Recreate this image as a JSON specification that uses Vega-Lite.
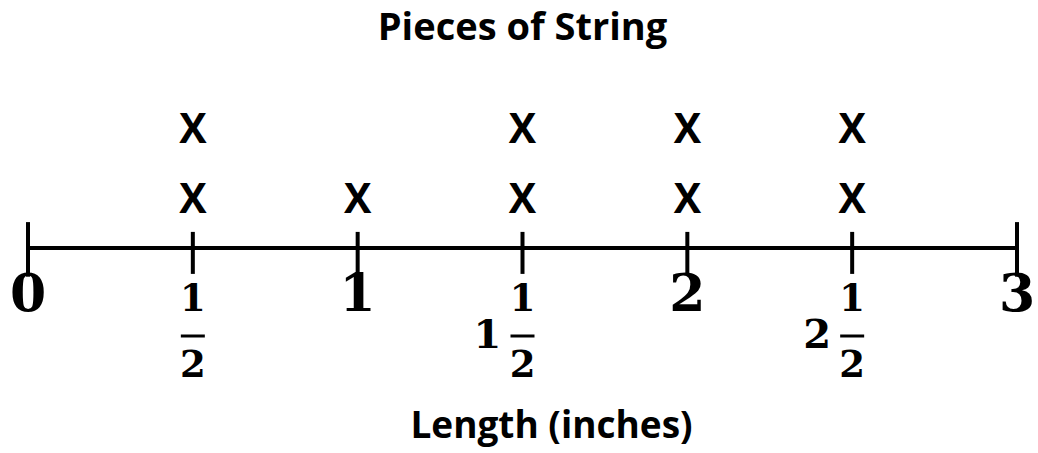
{
  "$schema": "https://vega.github.io/schema/vega-lite/v6.json",
  "width": 989,
  "height": 350,
  "autosize": {"type": "none"},
  "padding": {"left": 28, "top": 73, "right": 21, "bottom": 30},
  "background": "white",
  "title": {
    "text": "Pieces of String",
    "font": "Open Sans",
    "fontSize": 38,
    "fontWeight": "bold",
    "color": "black",
    "anchor": "middle",
    "offset": 25
  },
  "config": {
    "view": {"stroke": null},
    "axisX": {
      "labels": false,
      "ticks": false,
      "domain": false,
      "grid": false,
      "titleFont": "Open Sans",
      "titleFontSize": 37,
      "titleFontWeight": "bold",
      "titleColor": "black",
      "titleBaseline": "alphabetic",
      "titleAlign": "center",
      "titleX": 523,
      "titleY": 14
    }
  },
  "datasets": {
    "marks": [
      {"length": 0.5, "stack": 1},
      {"length": 0.5, "stack": 2},
      {"length": 1, "stack": 1},
      {"length": 1.5, "stack": 1},
      {"length": 1.5, "stack": 2},
      {"length": 2, "stack": 1},
      {"length": 2, "stack": 2},
      {"length": 2.5, "stack": 1},
      {"length": 2.5, "stack": 2}
    ],
    "ticks": [
      {"value": 0, "whole": "0"},
      {"value": 0.5, "whole": "", "num": "1", "den": "2"},
      {"value": 1, "whole": "1"},
      {"value": 1.5, "whole": "1", "num": "1", "den": "2"},
      {"value": 2, "whole": "2"},
      {"value": 2.5, "whole": "2", "num": "1", "den": "2"},
      {"value": 3, "whole": "3"}
    ],
    "line": [{"from": 0, "to": 3}]
  },
  "layer": [
    {
      "data": {"name": "line"},
      "mark": {"type": "rule", "color": "black", "strokeWidth": 4},
      "encoding": {
        "x": {
          "field": "from",
          "type": "quantitative",
          "scale": {"domain": [0, 3], "nice": false, "zero": false},
          "axis": {"title": "Length (inches)"}
        },
        "x2": {"field": "to"},
        "y": {"datum": 0, "type": "quantitative", "scale": {"domain": [-2.5, 2.5], "nice": false, "zero": false}, "axis": null}
      }
    },
    {
      "data": {"name": "ticks"},
      "transform": [{"filter": "datum.value > 0 && datum.value < 3"}],
      "mark": {"type": "rule", "color": "black", "strokeWidth": 4},
      "encoding": {
        "x": {"field": "value", "type": "quantitative", "title": "Length (inches)"},
        "y": {"datum": 0.23, "type": "quantitative", "axis": null},
        "y2": {"datum": -0.37}
      }
    },
    {
      "data": {"name": "ticks"},
      "transform": [{"filter": "datum.value == 0 || datum.value == 3"}],
      "mark": {"type": "rule", "color": "black", "strokeWidth": 4},
      "encoding": {
        "x": {"field": "value", "type": "quantitative", "title": "Length (inches)"},
        "y": {"datum": 0.37, "type": "quantitative", "axis": null},
        "y2": {"datum": -0.41}
      }
    },
    {
      "data": {"name": "marks"},
      "mark": {"type": "text", "text": "X", "font": "Open Sans", "fontSize": 41, "fontWeight": "bold", "color": "black", "baseline": "middle", "align": "center", "dy": 23},
      "encoding": {
        "x": {"field": "length", "type": "quantitative", "title": "Length (inches)"},
        "y": {"field": "stack", "type": "quantitative", "axis": null}
      }
    },
    {
      "data": {"name": "ticks"},
      "transform": [{"filter": "datum.num == null"}],
      "mark": {"type": "text", "font": "DejaVu Serif", "fontSize": 52, "fontWeight": "bold", "color": "black", "baseline": "middle", "align": "center", "dy": 47},
      "encoding": {
        "x": {"field": "value", "type": "quantitative", "title": "Length (inches)"},
        "y": {"datum": 0, "type": "quantitative", "axis": null},
        "text": {"field": "whole"}
      }
    },
    {
      "data": {"name": "ticks"},
      "transform": [{"filter": "datum.num != null"}],
      "mark": {"type": "text", "font": "DejaVu Serif", "fontSize": 37, "fontWeight": "bold", "color": "black", "baseline": "middle", "align": "center", "dy": 52},
      "encoding": {
        "x": {"field": "value", "type": "quantitative", "title": "Length (inches)"},
        "y": {"datum": 0, "type": "quantitative", "axis": null},
        "text": {"field": "num"}
      }
    },
    {
      "data": {"name": "ticks"},
      "transform": [{"filter": "datum.num != null"}],
      "mark": {"type": "tick", "orient": "horizontal", "size": 24, "thickness": 3, "color": "black", "opacity": 1, "yOffset": 88},
      "encoding": {
        "x": {"field": "value", "type": "quantitative", "title": "Length (inches)"},
        "y": {"datum": 0, "type": "quantitative", "axis": null}
      }
    },
    {
      "data": {"name": "ticks"},
      "transform": [{"filter": "datum.num != null"}],
      "mark": {"type": "text", "font": "DejaVu Serif", "fontSize": 37, "fontWeight": "bold", "color": "black", "baseline": "middle", "align": "center", "dy": 118},
      "encoding": {
        "x": {"field": "value", "type": "quantitative", "title": "Length (inches)"},
        "y": {"datum": 0, "type": "quantitative", "axis": null},
        "text": {"field": "den"}
      }
    },
    {
      "data": {"name": "ticks"},
      "transform": [{"filter": "datum.num != null && datum.whole != ''"}],
      "mark": {"type": "text", "font": "DejaVu Serif", "fontSize": 40, "fontWeight": "bold", "color": "black", "baseline": "middle", "align": "center", "dx": -35, "dy": 88},
      "encoding": {
        "x": {"field": "value", "type": "quantitative", "title": "Length (inches)"},
        "y": {"datum": 0, "type": "quantitative", "axis": null},
        "text": {"field": "whole"}
      }
    }
  ]
}
